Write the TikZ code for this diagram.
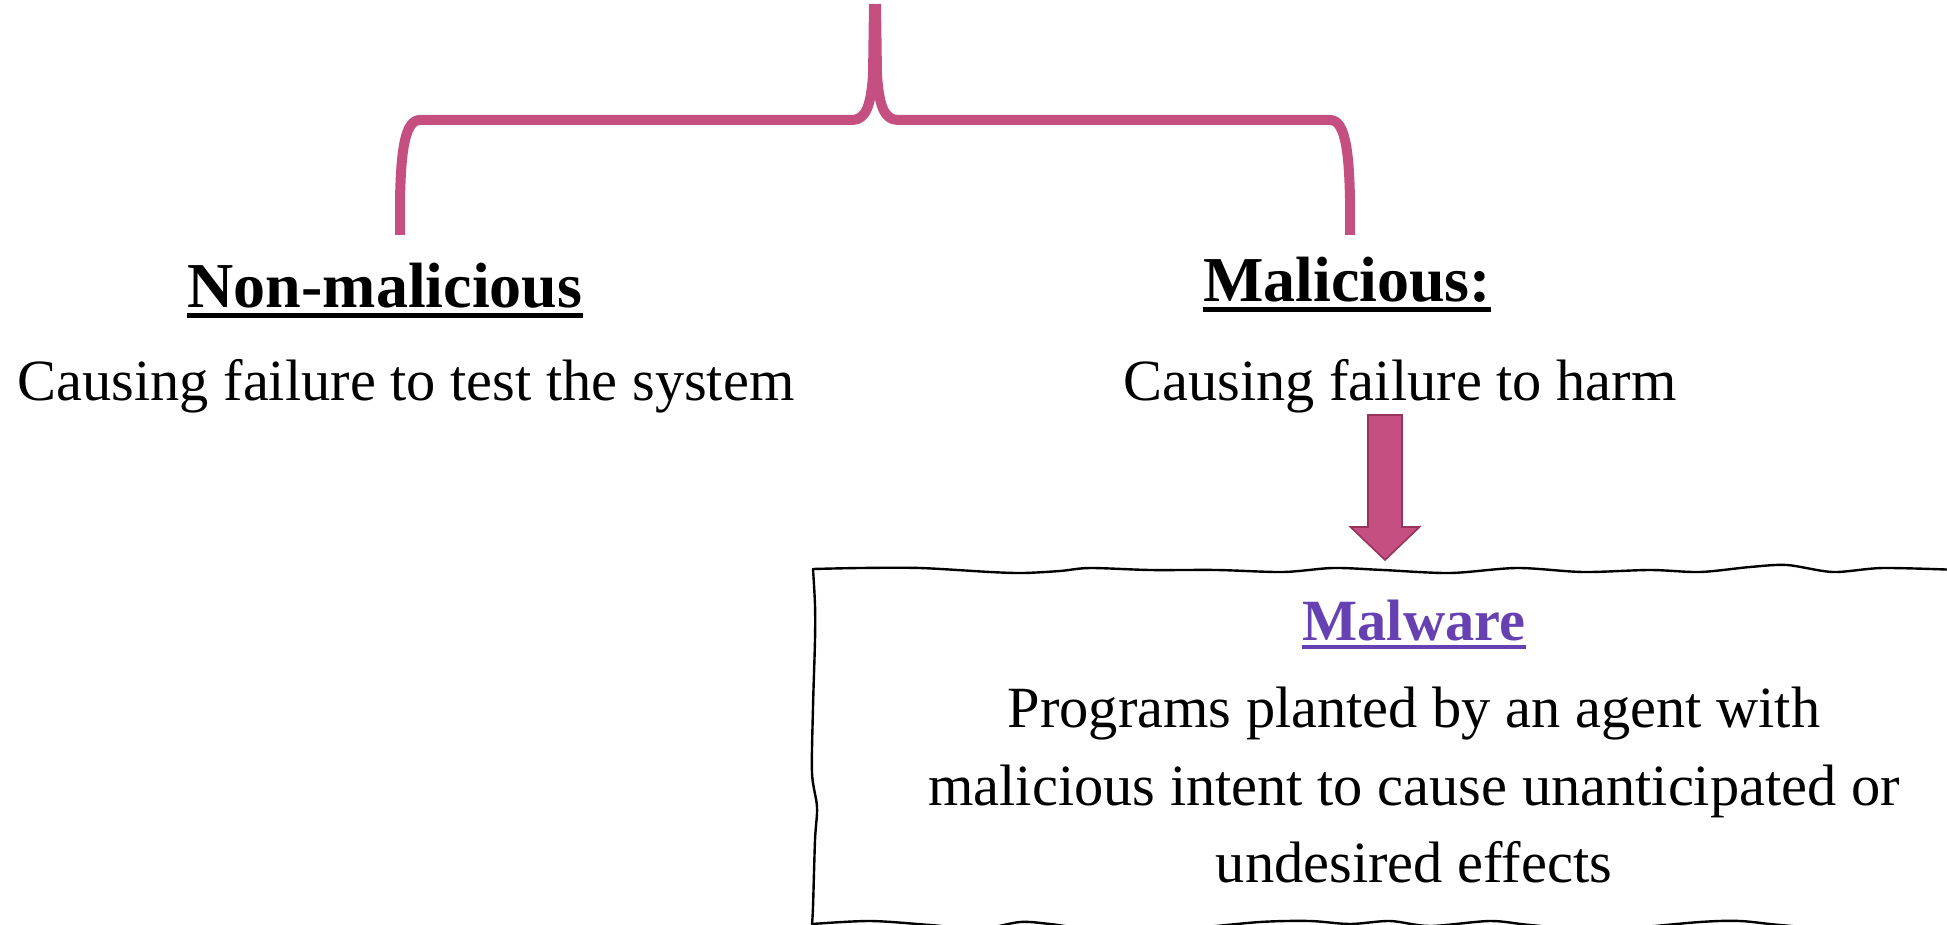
\documentclass[tikz,border=0pt]{standalone}
\usepackage{fontspec}
\setmainfont{Liberation Serif}
\usetikzlibrary{calc}
\definecolor{brace}{RGB}{196,79,128}
\definecolor{braceedge}{RGB}{150,52,92}
\definecolor{mwpurple}{RGB}{102,65,178}

\begin{document}
\begin{tikzpicture}[x=0.5pt,y=-0.5pt,
  title/.style={anchor=base,inner sep=0pt,font=\fontsize{32}{38}\selectfont\bfseries},
  body/.style={anchor=base,inner sep=0pt,font=\fontsize{29.2}{35}\selectfont},
  uline/.style={line width=2.5pt},
  bracestroke/.style={draw=brace,line width=5pt,line join=round},
  wavy/.style={draw=black,line width=1.2pt,line cap=round},
  ]
\useasboundingbox (0,0) rectangle (1947,925);
\clip (0,0) rectangle (1947,925);

% curly brace splitting into the two branches
\draw[bracestroke] (400,235) -- (400,200) .. controls (401,150) and (405,120) .. (420,120)
  -- (852,120) .. controls (866,120) and (871,105) .. (873,75) -- (874,4);
\draw[bracestroke] (1350,235) -- (1350,200) .. controls (1349,150) and (1345,120) .. (1330,120)
  -- (898,120) .. controls (884,120) and (879,105) .. (877,75) -- (876,4);

% branch headings
\node[title] (nmal) at (385,307) {Non-malicious};
\draw[uline] ([yshift=-4pt]nmal.base west) -- ([yshift=-4pt]nmal.base east);
\node[title] (mal) at (1347,301) {Malicious:};
\draw[uline] ([yshift=-4pt]mal.base west) -- ([yshift=-4pt]mal.base east);

\node[body] (nbody) at (406,400) {Causing failure to test the system};
\node[body] (mbody) at (1400,400) {Causing failure to harm};

% block arrow down to the malware box
\coordinate (atop) at (1385,415);
\coordinate (atip) at (1385,560);
\draw[fill=brace,draw=braceedge,line width=0.8pt,line join=miter]
  ($(atop)+(-17,0)$) -- ($(atop)+(17,0)$) -- ($(atip)+(17,-33)$) -- ($(atip)+(34.5,-33)$)
  -- (atip) -- ($(atip)+(-34.5,-33)$) -- ($(atip)+(-17,-33)$) -- cycle;

% hand-drawn box
\draw[wavy] plot[smooth] coordinates {(813,569) (860,568) (920,568) (990,572) (1023,573)
  (1060,571) (1090,568) (1150,570) (1217,570) (1283,572) (1333,568) (1383,570) (1450,573)
  (1517,568) (1583,572) (1650,570) (1700,572) (1750,567) (1787,565) (1833,572) (1883,568)
  (1960,570)};
\draw[wavy] plot[smooth] coordinates {(813,569) (815,605) (815,640) (813,707) (812,773)
  (817,807) (815,840) (813,907) (812,924)};
\draw[wavy] plot[smooth] coordinates {(812,924) (870,921) (930,925) (980,929) (1020,922)
  (1050,924) (1100,930) (1180,929) (1260,922) (1310,921) (1350,924) (1390,921) (1430,926)
  (1490,921) (1530,925) (1600,930) (1700,922) (1740,921) (1780,925) (1850,930) (1960,928)};

% box contents
\node[title,font=\fontsize{29.2}{35}\selectfont\bfseries,text=mwpurple] (mw) at (1414,640) {Malware};
\draw[uline,draw=mwpurple,line width=1.6pt] ([yshift=-3.5pt]mw.base west) -- ([yshift=-3.5pt]mw.base east);
\node[body] (l1) at (1414,727) {Programs planted by an agent with};
\node[body] (l2) at (1414,805) {malicious intent to cause unanticipated or};
\node[body] (l3) at (1414,882) {undesired effects};
\end{tikzpicture}
\end{document}
